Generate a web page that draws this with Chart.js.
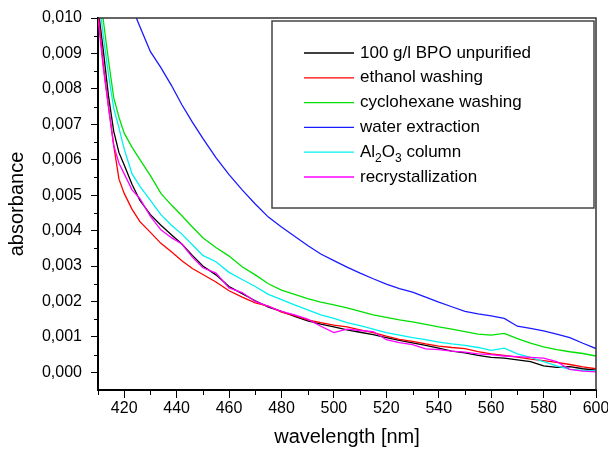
<!DOCTYPE html>
<html>
<head>
<meta charset="utf-8">
<script src="https://cdn.jsdelivr.net/npm/chart.js@4.4.0/dist/chart.umd.min.js"></script>
<style>
  html, body { margin: 0; padding: 0; background: #fff; }
  #wrap { width: 608px; height: 453px; }
</style>
</head>
<body>
<div id="wrap"><canvas id="absChart" width="608" height="453"></canvas></div>
<script>
// wavelength grid [nm]
const wavelengths = [410, 412, 414, 416, 418, 420, 423, 426, 430, 434, 438, 442, 446, 450, 455, 460, 465, 470, 475, 480,
  485, 490, 495, 500, 505, 510, 515, 520, 525, 530, 535, 540, 545, 550, 555, 560, 565, 570, 575, 580, 585, 590, 595, 600];

// absorbance values
const unpurified = [0.0103, 0.0091, 0.0078, 0.0068, 0.0062, 0.00585, 0.0053, 0.00485, 0.00445, 0.00415, 0.00388, 0.00362, 0.0033, 0.0030, 0.00275, 0.00242, 0.00222, 0.00202, 0.00184, 0.00172,
  0.00158, 0.00145, 0.00136, 0.00128, 0.0012, 0.00113, 0.00106, 0.00098, 0.0009, 0.00083, 0.00076, 0.00068, 0.0006, 0.00055, 0.00048, 0.00042, 0.0004, 0.00035, 0.0003, 0.00018, 0.00014, 0.00016, 0.0001, 0.00006];
const ethanolWash = [0.0102, 0.0087, 0.0075, 0.0064, 0.00545, 0.00505, 0.0046, 0.00425, 0.00395, 0.00364, 0.0034, 0.00315, 0.00293, 0.00276, 0.00255, 0.0023, 0.00212, 0.00196, 0.00187, 0.0017,
  0.0016, 0.00148, 0.0014, 0.00133, 0.00128, 0.0012, 0.00112, 0.00102, 0.00093, 0.00087, 0.0008, 0.00074, 0.0007, 0.00067, 0.00058, 0.00052, 0.00048, 0.00043, 0.00037, 0.00033, 0.00028, 0.00022, 0.00015, 0.0001];
const cyclohexaneWash = [0.0110, 0.00995, 0.0088, 0.00775, 0.0072, 0.00675, 0.00635, 0.006, 0.00555, 0.00505, 0.00472, 0.00442, 0.0041, 0.0038, 0.00352, 0.00328, 0.00298, 0.00275, 0.0025, 0.00232,
  0.0022, 0.00208, 0.00198, 0.0019, 0.00182, 0.00172, 0.00162, 0.00155, 0.00148, 0.00142, 0.00135, 0.00128, 0.00122, 0.00115, 0.00108, 0.00105, 0.0011, 0.00095, 0.00082, 0.00072, 0.00064, 0.00058, 0.00053, 0.00046];
const waterExtraction = [0.0145, 0.0138, 0.013, 0.0123, 0.0116, 0.011, 0.0103, 0.00975, 0.00905, 0.0086, 0.0081, 0.00755, 0.00706, 0.0066, 0.00606, 0.00558, 0.00515, 0.00475, 0.00438, 0.0041,
  0.00384, 0.00358, 0.00334, 0.00315, 0.00297, 0.0028, 0.00264, 0.00249, 0.00236, 0.00226, 0.00212, 0.00198, 0.00185, 0.00172, 0.00165, 0.00159, 0.00152, 0.0013, 0.00124, 0.00117, 0.00108, 0.00098, 0.00082, 0.00067];
const aluminaColumn = [0.0108, 0.0095, 0.0084, 0.00745, 0.0069, 0.0063, 0.0056, 0.00525, 0.00485, 0.00445, 0.00415, 0.0039, 0.0036, 0.0033, 0.00312, 0.00282, 0.00262, 0.00242, 0.0022, 0.00205,
  0.0019, 0.00176, 0.00162, 0.00152, 0.0014, 0.00132, 0.00122, 0.00112, 0.00105, 0.00098, 0.00092, 0.00085, 0.0008, 0.00076, 0.0007, 0.00062, 0.00068, 0.00052, 0.00042, 0.0003, 0.00018, 0.00008, 0.00005, 0.00004];
const recrystallized = [0.0100, 0.0086, 0.0075, 0.0064, 0.0059, 0.0056, 0.00515, 0.0049, 0.0044, 0.00402, 0.0038, 0.00362, 0.00325, 0.00295, 0.0028, 0.00238, 0.00225, 0.002, 0.00186, 0.00172,
  0.00162, 0.0015, 0.0013, 0.00112, 0.00122, 0.00118, 0.00115, 0.00092, 0.00084, 0.00078, 0.00066, 0.00064, 0.0006, 0.00057, 0.00052, 0.0005, 0.00046, 0.00044, 0.00042, 0.0004, 0.0003, 0.00008, 0.00003, 0.00001];

const seriesNames = ['100 g/l BPO unpurified', 'ethanol washing', 'cyclohexane washing', 'water extraction', 'Al2O3 column', 'recrystallization'];
const seriesValues = [unpurified, ethanolWash, cyclohexaneWash, waterExtraction, aluminaColumn, recrystallized];
const seriesColors = ['#000000', '#ff0000', '#00e000', '#1a1aff', '#00f0f0', '#ff00ff'];

// tick labels
const xTicks = [420, 440, 460, 480, 500, 520, 540, 560, 580, 600];
const xMinorTicks = [410, 430, 450, 470, 490, 510, 530, 550, 570, 590];
const yTicks = [0, 0.001, 0.002, 0.003, 0.004, 0.005, 0.006, 0.007, 0.008, 0.009, 0.010];
const yMinorTicks = [0.0005, 0.0015, 0.0025, 0.0035, 0.0045, 0.0055, 0.0065, 0.0075, 0.0085, 0.0095];

Chart.defaults.font.family = '"Liberation Sans", Arial, sans-serif';
Chart.defaults.color = '#000';

// frame on top/right and the small ticks between the labelled ones
const framePlugin = {
  id: 'frame',
  afterDatasetsDraw(chart) {
    const { ctx, chartArea: a, scales: { x, y } } = chart;
    ctx.save();
    ctx.strokeStyle = '#333';
    ctx.lineWidth = 1.5;
    ctx.beginPath();
    ctx.moveTo(a.left, a.top);
    ctx.lineTo(a.right, a.top);
    ctx.lineTo(a.right, a.bottom);
    ctx.stroke();

    ctx.strokeStyle = '#000';
    ctx.lineWidth = 1;
    ctx.beginPath();
    xMinorTicks.forEach(v => {
      const px = Math.round(x.getPixelForValue(v)) + 0.5;
      ctx.moveTo(px, a.bottom);
      ctx.lineTo(px, a.bottom + 5);
    });
    yMinorTicks.forEach(v => {
      const py = Math.round(y.getPixelForValue(v)) + 0.5;
      ctx.moveTo(a.left, py);
      ctx.lineTo(a.left - 4, py);
    });
    ctx.stroke();
    ctx.restore();
  }
};

// boxed legend in the upper right, with subscripts for Al2O3
const legendBoxPlugin = {
  id: 'legendBox',
  afterDraw(chart) {
    const { ctx, chartArea: a } = chart;
    const left = a.right - 324, top = a.top + 3, right = a.right - 2, bottom = a.top + 190;
    ctx.save();
    ctx.fillStyle = '#fff';
    ctx.fillRect(left, top, right - left, bottom - top);
    ctx.strokeStyle = '#444';
    ctx.lineWidth = 1.5;
    ctx.strokeRect(left, top, right - left, bottom - top);

    chart.data.datasets.forEach((ds, i) => {
      const rowY = top + 32 + i * 24.8;
      ctx.strokeStyle = ds.borderColor;
      ctx.lineWidth = 1.3;
      ctx.beginPath();
      ctx.moveTo(left + 32, rowY);
      ctx.lineTo(left + 82, rowY);
      ctx.stroke();

      ctx.fillStyle = '#000';
      ctx.textBaseline = 'middle';
      let tx = left + 88;
      const label = ds.label;
      for (let k = 0; k < label.length; k++) {
        const ch = label[k];
        const sub = /\d/.test(ch) && k > 0 && /[A-Za-z]/.test(label[k - 1]);
        ctx.font = sub ? '12px "Liberation Sans", Arial, sans-serif' : '17px "Liberation Sans", Arial, sans-serif';
        ctx.fillText(ch, tx, sub ? rowY + 6 : rowY);
        tx += ctx.measureText(ch).width;
      }
    });
    ctx.restore();
  }
};

new Chart(document.getElementById('absChart'), {
  type: 'line',
  data: {
    datasets: seriesNames.map((name, i) => ({
      label: name,
      data: wavelengths.map((w, j) => ({ x: w, y: seriesValues[i][j] })),
      borderColor: seriesColors[i],
      backgroundColor: seriesColors[i],
      borderWidth: 1.3,
      pointRadius: 0,
      tension: 0,
      fill: false,
      order: seriesNames.length - i
    }))
  },
  options: {
    responsive: false,
    animation: false,
    layout: { padding: { top: 18, right: 12, left: 0, bottom: 0 } },
    plugins: {
      legend: { display: false },
      tooltip: { enabled: false }
    },
    scales: {
      x: {
        type: 'linear',
        min: 410,
        max: 600,
        afterBuildTicks: scale => { scale.ticks = xTicks.map(v => ({ value: v })); },
        afterFit: scale => { scale.height = 63; scale.paddingLeft = 0; scale.paddingRight = 0; },
        ticks: { font: { size: 16 }, color: '#000', padding: 1, maxRotation: 0, autoSkip: false },
        grid: { drawOnChartArea: false, tickLength: 8, tickColor: '#000', tickWidth: 1 },
        border: { color: '#000', width: 2 },
        title: { display: true, text: 'wavelength [nm]', font: { size: 20 }, color: '#000', padding: { top: 0, bottom: 4 } }
      },
      y: {
        min: -0.0005,
        max: 0.010,
        afterBuildTicks: scale => { scale.ticks = yTicks.map(v => ({ value: v })); },
        afterFit: scale => { scale.width = 98; scale.paddingTop = 0; scale.paddingBottom = 0; },
        ticks: {
          font: { size: 16 }, color: '#000', padding: 9,
          callback: v => v.toFixed(3).replace('.', ',')
        },
        grid: { drawOnChartArea: false, tickLength: 7, tickColor: '#000', tickWidth: 1 },
        border: { color: '#000', width: 2 },
        title: { display: true, text: 'absorbance', font: { size: 20 }, color: '#000', padding: { top: 5, bottom: 0 } }
      }
    }
  },
  plugins: [framePlugin, legendBoxPlugin]
});
</script>
</body>
</html>
